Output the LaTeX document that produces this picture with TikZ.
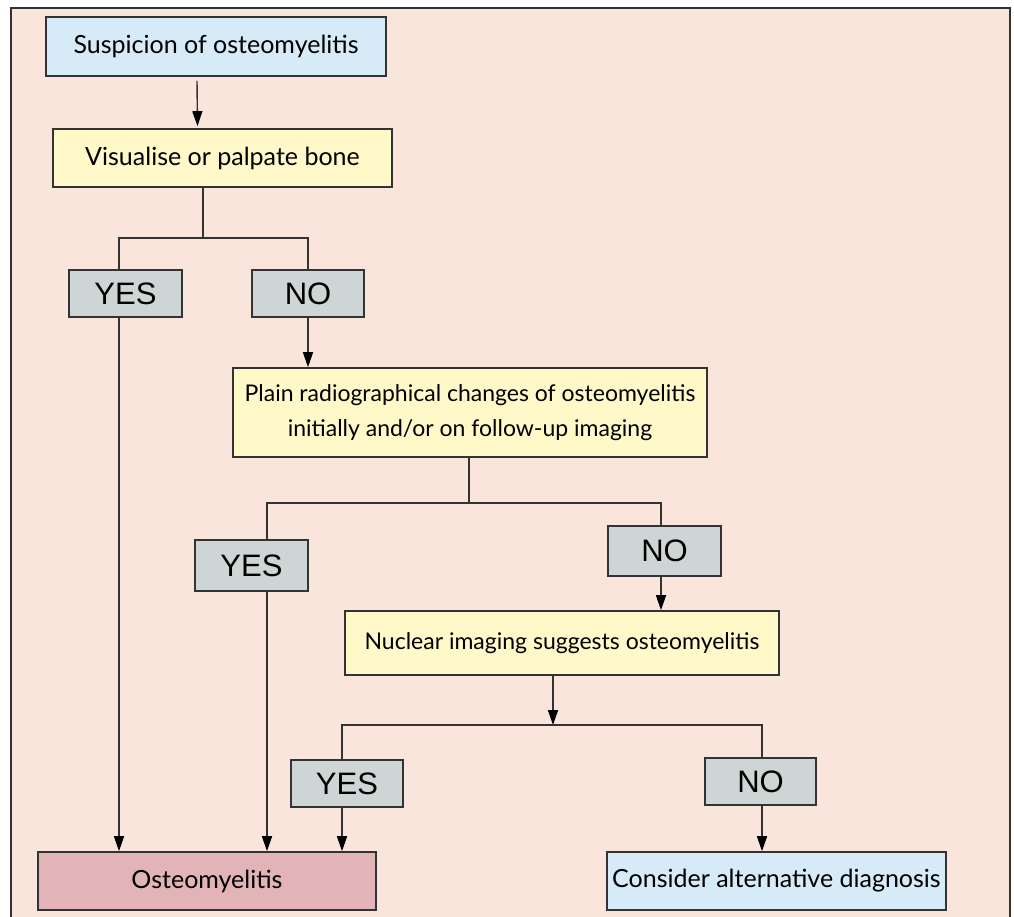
\documentclass[tikz,border=0pt]{standalone}
\usepackage{fontspec}
\setmainfont{Lato}
\newfontfamily\yesnofont{Liberation Sans}
\usetikzlibrary{arrows.meta,calc}
\definecolor{bgpink}{HTML}{FAE5DD}
\definecolor{boxblue}{HTML}{D6EAF8}
\definecolor{boxyellow}{HTML}{FFF8C9}
\definecolor{boxgray}{HTML}{CDD6D5}
\definecolor{boxred}{HTML}{E3B4B7}
\definecolor{linegray}{HTML}{333333}
\tikzset{
  flowbox/.style={draw=linegray, line width=1.6pt, inner sep=0pt, align=center,
    font=\fontsize{25}{36}\selectfont},
  smallflow/.style={flowbox, font=\fontsize{23}{35}\selectfont},
  ynbox/.style={draw=linegray, line width=1.6pt, fill=boxgray, inner sep=0pt,
    font=\yesnofont\fontsize{31}{31}\selectfont},
  conn/.style={draw=linegray, line width=1.4pt},
  arr/.style={conn, -{Triangle[length=15pt,width=10pt,color=black]}},
}
\begin{document}
\begin{tikzpicture}[x=1pt,y=-1pt]
\useasboundingbox (0,0) rectangle (1014,916);
\fill[white] (0,0) rectangle (1014,916);
\draw[draw=linegray, line width=2.2pt, fill=bgpink] (11,8) rectangle (1010,930);

\node[flowbox, fill=boxblue, minimum width=340pt, minimum height=59pt] (susp) at (216,46.5) {Suspicion of osteomyelitis};
\node[flowbox, fill=boxyellow, minimum width=339pt, minimum height=58pt] (vis) at (222.5,158) {Visualise or palpate bone};
\node[ynbox, minimum width=113pt, minimum height=47pt] (yes1) at (125.5,293.5) {YES};
\node[ynbox, minimum width=112pt, minimum height=47pt] (no1) at (308,293.5) {NO};
\node[smallflow, fill=boxyellow, minimum width=474pt, minimum height=89pt] (plain) at (470,412.5) {Plain radiographical changes of osteomyelitis\\initially and/or on follow-up imaging};
\node[ynbox, minimum width=113pt, minimum height=51pt] (yes2) at (251.5,565.5) {YES};
\node[ynbox, minimum width=113pt, minimum height=50pt] (no2) at (664.5,551) {NO};
\node[smallflow, fill=boxyellow, minimum width=434pt, minimum height=64pt] (nuc) at (562,643) {Nuclear imaging suggests osteomyelitis};
\node[ynbox, minimum width=112pt, minimum height=47pt] (yes3) at (347,783.5) {YES};
\node[ynbox, minimum width=111pt, minimum height=47pt] (no3) at (760.5,781.5) {NO};
\node[flowbox, fill=boxred, minimum width=338pt, minimum height=58pt] (osteo) at (207,881) {Osteomyelitis};
\node[flowbox, fill=boxblue, minimum width=339pt, minimum height=58pt] (cons) at (776.5,881) {Consider alternative diagnosis};

% junction coordinates
\coordinate (j1) at (203,238);
\coordinate (j2) at (469,503);
\coordinate (j3) at (553,725);

% susp -> vis
\draw[arr] ($(susp.south)+(-19,4)$) -- ($(vis.north)+(-25,-2)$);
% vis split
\draw[conn] ($(vis.south -| j1)$) -- (j1);
\draw[conn] (yes1.north -| 119,0) |- (j1) -| (no1.north);
\draw[arr] ($(yes1.south -| 119,0)$) -- ($(osteo.north -| 119,0)$);
\draw[arr] (no1.south) -- (plain.north -| no1.south);
% plain split
\draw[conn] (plain.south -| j2) -- (j2);
\draw[conn] (yes2.north -| 267,0) |- (j2) -| (no2.north -| 661,0);
\draw[arr] (yes2.south -| 267,0) -- (osteo.north -| 267,0);
\draw[arr] (no2.south -| 661,0) -- (nuc.north -| 661,0);
% nuclear split
\draw[arr] (nuc.south -| j3) -- (j3);
\draw[conn] (yes3.north -| 342,0) |- (j3) -| (no3.north -| 762,0);
\draw[arr] (yes3.south -| 342,0) -- (osteo.north -| 342,0);
\draw[arr] (no3.south -| 762,0) -- (cons.north -| 762,0);
\end{tikzpicture}
\end{document}
